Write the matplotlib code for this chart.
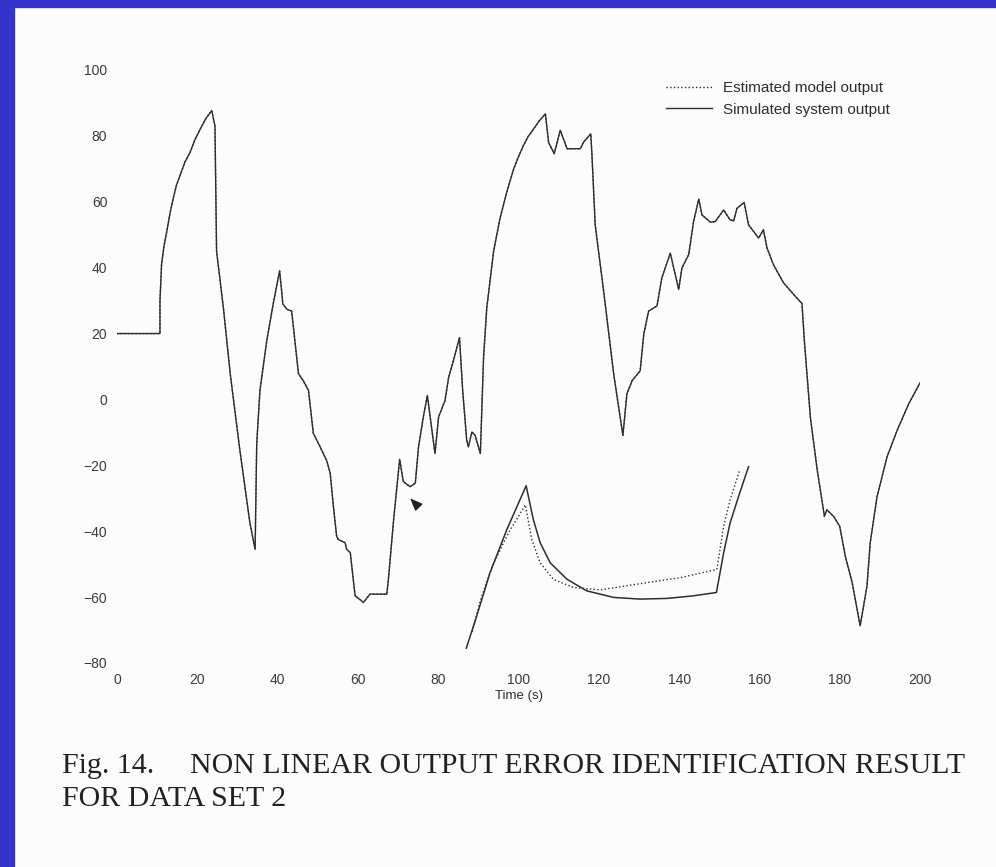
import matplotlib.pyplot as plt
from matplotlib.patches import Rectangle

# simulated system output over the whole run (estimated output lies on top of it)
t_sim = [0, 10.7, 10.7, 11.1, 11.7, 12.4, 13.2, 14.0, 14.8, 15.7, 16.9, 18.2, 19.4, 20.7,
         22.1, 23.6, 24.4, 24.8, 26.5, 28.2,
         30.6, 33.1, 34.4, 34.8, 35.6, 37.3, 38.9, 40.5, 41.0, 41.3, 42.3, 43.5, 44.4,
         45.2, 46.4, 47.7, 48.9, 50.6, 52.3, 53.1, 53.9, 54.7, 55.1, 56.8, 57.2, 58.1,
         59.3, 61.4, 63.0, 67.2, 67.6, 68.9, 70.4, 71.3, 73.0, 74.3, 75.1, 76.3, 77.3,
         78.0, 79.2, 80.1, 81.7, 82.6, 83.8, 85.3, 86.1, 87.1, 87.5, 88.4, 89.2, 90.5,
         91.3, 92.1, 93.8, 95.4, 97.1, 98.8, 100.0, 101.2, 102.4, 103.7, 105.2, 106.7,
         107.5, 108.9, 110.4,
         112.1, 115.4, 116.2, 118.0, 118.3, 119.1, 121.2, 123.7, 126.0, 127.0, 128.3,
         130.3, 131.2, 132.4, 134.5, 135.7, 137.8, 139.9, 140.7, 142.4, 143.6, 144.9,
         145.7, 147.8, 149.0, 151.1, 152.7, 153.6, 154.4, 156.2, 157.3, 159.8, 161.0,
         161.9, 163.5, 166.0, 168.5, 170.6, 171.2, 172.7, 174.4, 175.8, 176.2, 176.8,
         178.5, 180.0, 181.4, 183.1, 185.1, 186.8, 187.6, 189.3, 191.8, 194.3, 197.2,
         200.0]
y_sim = [20, 20, 29.9, 41, 46.5, 51, 56.5, 61, 65, 68, 72, 75, 78.8, 82,
         85.2, 87.7, 83, 45, 27.8, 7.8,
         -15.4, -37.5, -45.5, -13.4, 2.7, 17.8, 29, 39, 33, 29, 27.4, 26.8, 16.8,
         7.8, 5.7, 2.7, -10.3, -14.4, -18.8, -22.4, -32.5, -41.5, -42.5, -43.5, -45.5, -46.5,
         -59.6, -61.6, -59.1, -59.1, -54.6, -36.5, -18.2, -24.9, -26.5, -25.4, -14.4, -5.3, 1.2,
         -5.3, -16.4, -5.3, -0.3, 6.7, 11.8, 18.8, 2.7, -12.4, -14.4, -9.9, -10.9, -16.4,
         12.8, 27.8, 45, 55, 63, 70, 73.7, 77, 79.8, 82, 84.6, 86.7,
         78, 74.6, 81.7,
         76.1, 76.1, 78.1, 80.6, 74.1, 53, 32.9, 7.8, -10.9, 1.7, 5.7,
         8.7, 19.8, 26.8, 28.4, 36.9, 44.4, 33.4, 39.9, 44, 54, 60.8,
         56, 53.8, 54, 57.5, 54.5, 54.2, 58, 59.8, 53, 49, 51.5,
         46, 40.9, 35.4, 31.9, 29.1, 17.8, -5.5, -21.4, -32.5, -35.5, -33.5,
         -35.5, -38.5, -47.6, -55.6, -68.7, -56.6, -43.5, -29.5, -17.4, -9.4, -1.3,
         5.0]

# magnified detail around the marked dip
t_zoom_sim = [87.0, 89.6, 92.9, 97.1, 101.9, 103.7, 105.4, 107.9, 112.1, 117.0, 123.7,
              130.3, 137.0, 143.6, 149.3, 151.1, 152.7, 154.8, 157.3]
y_zoom_sim = [-75.5, -65.7, -52.6, -39.5, -26.2, -36.5, -43.5, -49.6, -54.6, -58.1, -60.1,
              -60.6, -60.4, -59.6, -58.6, -46.5, -37.5, -29.5, -20.4]
t_zoom_est = [88.5, 90.5, 93.5, 97.5, 101.7, 103.3, 105.4, 108.7, 113.7, 120.4, 132.0,
              140.3, 149.4, 151.1, 152.7, 155.1]
y_zoom_est = [-70.5, -61.0, -50.5, -40.5, -32.0, -42.5, -49.6, -54.6, -57.1, -57.8, -55.6,
              -54.1, -51.6, -38.5, -30.5, -21.4]

xticks = [0, 20, 40, 60, 80, 100, 120, 140, 160, 180, 200]
yticks = [-80, -60, -40, -20, 0, 20, 40, 60, 80, 100]

ink = '#2e2e2e'
plt.rcParams['font.family'] = ['Liberation Sans', 'DejaVu Sans']

fig = plt.figure(figsize=(9.96, 8.67), dpi=100, facecolor='#fcfcfc')
ax = fig.add_axes([117 / 996, 1 - 663 / 867, 803 / 996, 593 / 867])
ax.set_facecolor('none')

ax.plot(t_sim, y_sim, ':', color=ink, lw=1.0, label='Estimated model output')
ax.plot(t_sim, y_sim, '-', color=ink, lw=1.0, label='Simulated system output')
ax.plot(t_zoom_est, y_zoom_est, ':', color=ink, lw=1.0)
ax.plot(t_zoom_sim, y_zoom_sim, '-', color=ink, lw=1.1)

# little pointer at the dip
ax.annotate('', xy=(73.0, -30.0), xytext=(74.6, -32.0),
            arrowprops=dict(arrowstyle='-|>,head_length=0.75,head_width=0.3',
                            color='#222222', lw=1.0, shrinkA=0, shrinkB=0))

ax.set_xlim(0, 200)
ax.set_ylim(-80, 100)
ax.set_xticks(xticks)
ax.set_yticks(yticks)
ax.set_yticklabels([('\u2212%d' % -v if v < 0 else str(v)) for v in yticks])
ax.tick_params(length=0, labelsize=10, labelcolor='#3a3a3a', pad=7)
for s in ax.spines.values():
    s.set_visible(False)
ax.set_xlabel('Time (s)', fontsize=9.5, color=ink, labelpad=2)

leg = ax.legend(loc='upper left', bbox_to_anchor=(666 / 996, 1 - 81 / 867),
                bbox_transform=fig.transFigure, frameon=False, fontsize=11,
                handlelength=3.0, handletextpad=0.7, labelspacing=0.5,
                borderpad=0, borderaxespad=0)
for txt in leg.get_texts():
    txt.set_color(ink)

# caption
cap = dict(family='Liberation Serif', fontsize=21.5, color='#222222', va='baseline')
fig.text(62 / 996, 1 - 773 / 867, 'Fig. 14.', **cap)
fig.text(190 / 996, 1 - 773 / 867, 'NON LINEAR OUTPUT ERROR IDENTIFICATION RESULT', **cap)
fig.text(62 / 996, 1 - 806 / 867, 'FOR DATA SET 2', **cap)

# blue frame of the slide
blue = '#3333cc'
fig.patches.append(Rectangle((0, 0), 14 / 996, 1, transform=fig.transFigure,
                             color=blue, zorder=10))
fig.patches.append(Rectangle((0, 1 - 7 / 867), 1, 7 / 867, transform=fig.transFigure,
                             color=blue, zorder=10))

fig.savefig('out.png', dpi=100, facecolor=fig.get_facecolor())
